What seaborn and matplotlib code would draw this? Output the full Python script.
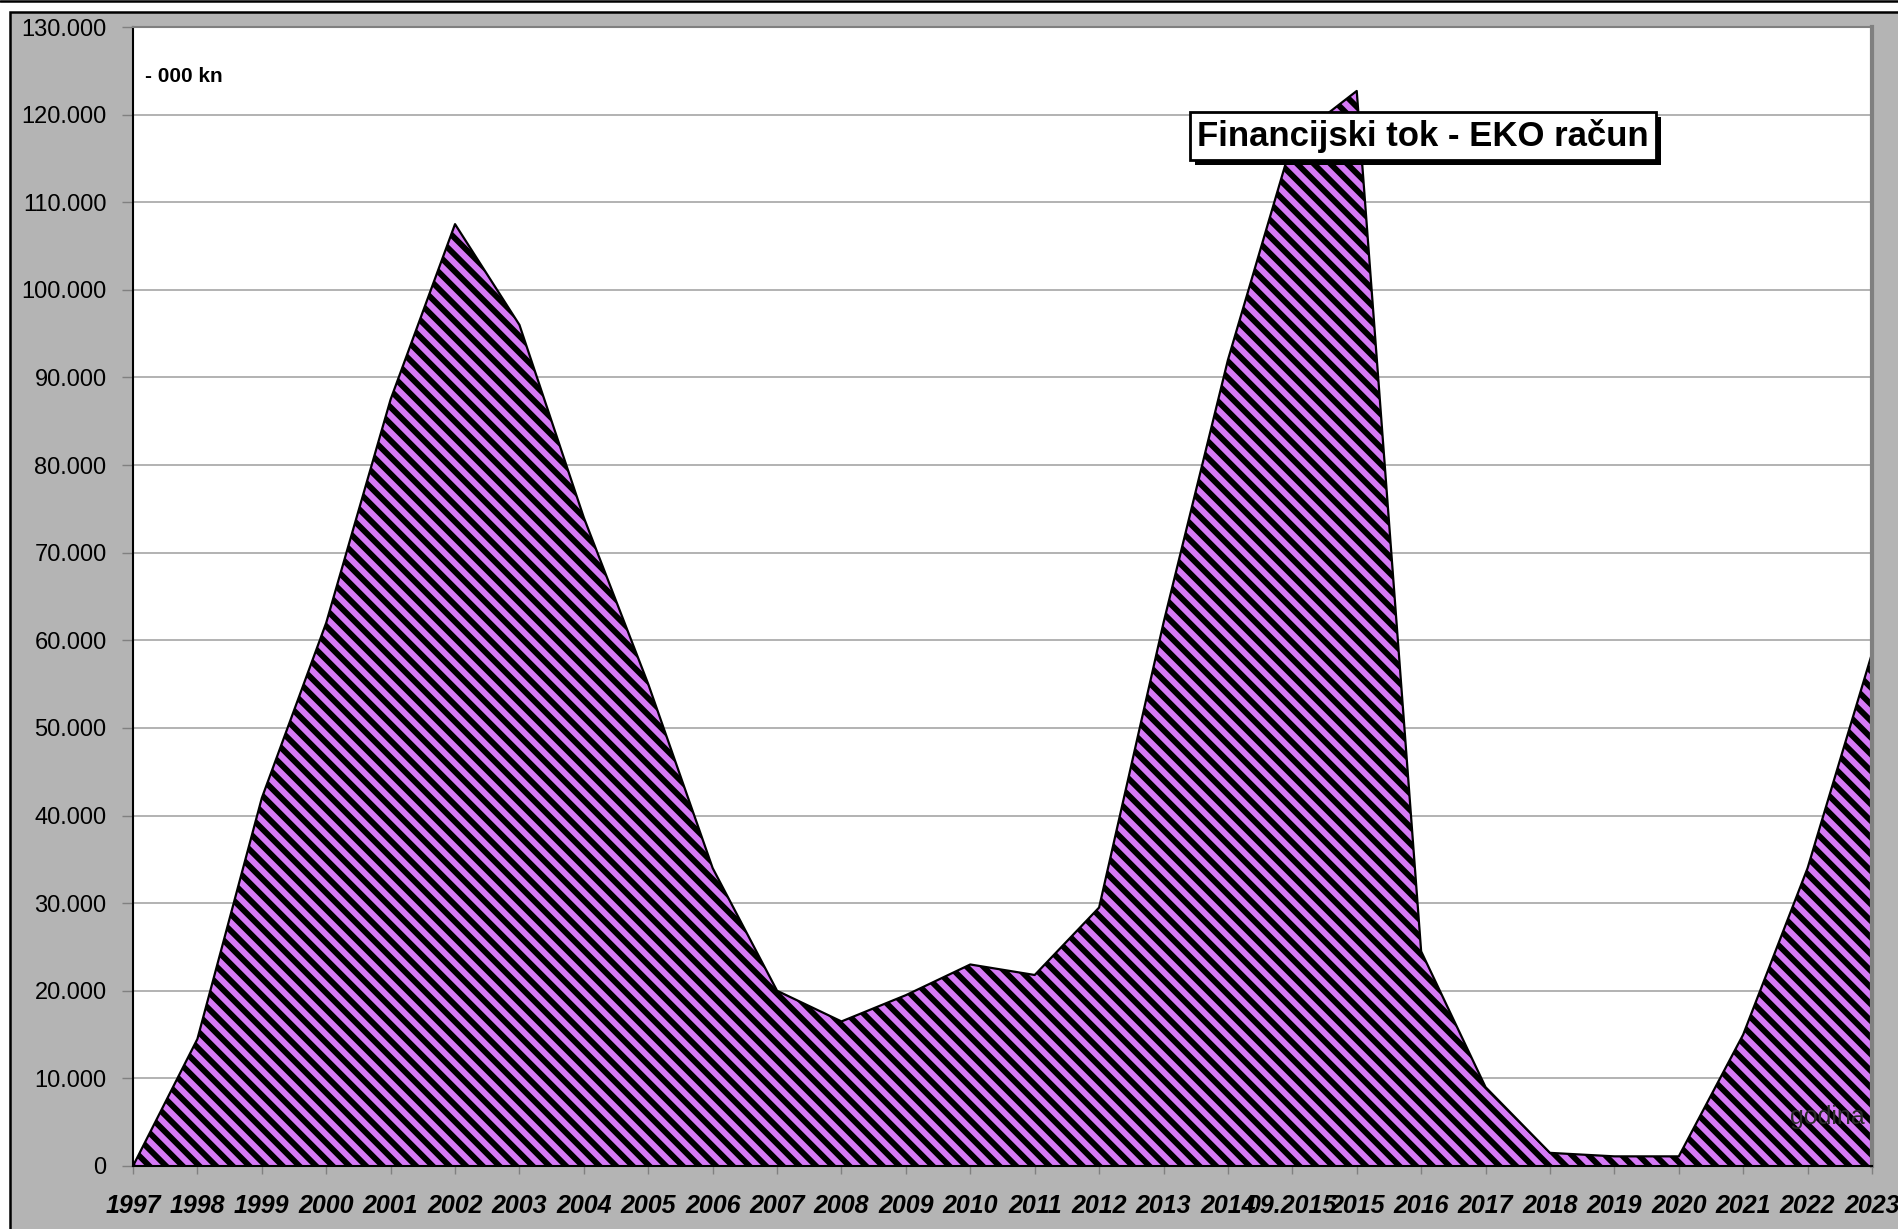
import numpy as np
import seaborn as sns
import matplotlib.pyplot as plt
import matplotlib.patheffects as pe
from matplotlib.patches import Rectangle
from matplotlib.lines import Line2D

# Chart data (values in thousand kn)
years = ["1997", "1998", "1999", "2000", "2001", "2002", "2003", "2004", "2005",
         "2006", "2007", "2008", "2009", "2010", "2011", "2012", "2013", "2014",
         "09.2015", "2015", "2016", "2017", "2018", "2019", "2020", "2021",
         "2022", "2023"]
values = [0, 14500, 42000, 62000, 87500, 107500, 96000, 74000, 55000,
          34000, 20000, 16500, 19500, 23000, 21800, 29500, 62000, 92000,
          117000, 122700, 24500, 9000, 1500, 1100, 1100, 15000,
          34000, 58500]
y_ticks = list(range(0, 130001, 10000))

sns.set_style("white")
plt.rcParams['font.family'] = ['Liberation Sans', 'DejaVu Sans']
plt.rcParams['text.color'] = 'black'
plt.rcParams['xtick.color'] = '#808080'
plt.rcParams['ytick.color'] = '#808080'
plt.rcParams['xtick.labelcolor'] = 'black'
plt.rcParams['ytick.labelcolor'] = 'black'
plt.rcParams['hatch.color'] = 'black'
plt.rcParams['hatch.linewidth'] = 4.2

fig = plt.figure(figsize=(18.99, 12.29), dpi=100, facecolor='white')

# Gray chart area with black frame, plus thin top line
fig.patches.append(Rectangle((10 / 1899, -0.01), 1.0, (1229 - 12) / 1229 + 0.01,
                             transform=fig.transFigure, facecolor='#b4b4b4',
                             edgecolor='black', linewidth=1.8, zorder=-5))
fig.lines.append(Line2D([0, 1], [1 - 1 / 1229, 1 - 1 / 1229], transform=fig.transFigure,
                        color='black', linewidth=1.8, zorder=-5))

ax = fig.add_axes([133 / 1899, 63 / 1229, (1872 - 133) / 1899, (1166 - 27) / 1229])
ax.set_facecolor('white')

x = np.arange(len(years))
ax.fill_between(x, values, 0, facecolor='#d67af6', edgecolor='black',
                hatch='\\\\', linewidth=0, zorder=2)
sns.lineplot(x=x, y=values, color='black', linewidth=1.6, ax=ax, zorder=3)

ax.set_xlim(0, len(years) - 1)
ax.set_ylim(0, 130000)
ax.set_yticks(y_ticks)
ax.set_yticklabels([f"{v:,}".replace(",", ".") for v in y_ticks], fontsize=17)
ax.set_xticks(x)
ax.set_xticklabels(years, fontsize=18, fontweight='bold', fontstyle='italic')
ax.tick_params(axis='y', direction='out', length=8, width=1, pad=11, left=True)
ax.tick_params(axis='x', direction='out', length=6, width=1, pad=14, bottom=True)
ax.grid(axis='y', color='#a6a6a6', linewidth=1.2, zorder=1)
ax.set_axisbelow(True)
ax.set_xlabel("")
ax.set_ylabel("")

ax.spines['left'].set_color('black')
ax.spines['left'].set_linewidth(1.5)
ax.spines['bottom'].set_color('black')
ax.spines['bottom'].set_linewidth(1.5)
ax.spines['top'].set_color('#808080')
ax.spines['top'].set_linewidth(1.5)
ax.spines['right'].set_color('#808080')
ax.spines['right'].set_linewidth(3)
for s in ax.spines.values():
    s.set_zorder(4)

# Unit label and axis caption inside the plot
fig.text(145 / 1899, 1 - 77 / 1229, "- 000 kn", fontsize=15, fontweight='bold',
         ha='left', va='center', color='black')
ax.text(0.996, 0.043, "godina", transform=ax.transAxes, fontsize=18, color='#2a2a2a',
        ha='right', va='center', zorder=5)

# Title in a white box with a black shadow
t = fig.text(1423 / 1899, 1 - 136 / 1229, "Financijski tok - EKO račun", fontsize=25,
             fontweight='bold', ha='center', va='center', zorder=10, color='black',
             bbox=dict(boxstyle='square,pad=0.2', facecolor='white', edgecolor='black',
                       linewidth=2))
t.get_bbox_patch().set_path_effects([
    pe.SimplePatchShadow(offset=(3.5, -3.5), shadow_rgbFace='black', alpha=1),
    pe.Normal()])

fig.savefig("out.png", dpi=100, facecolor=fig.get_facecolor())
